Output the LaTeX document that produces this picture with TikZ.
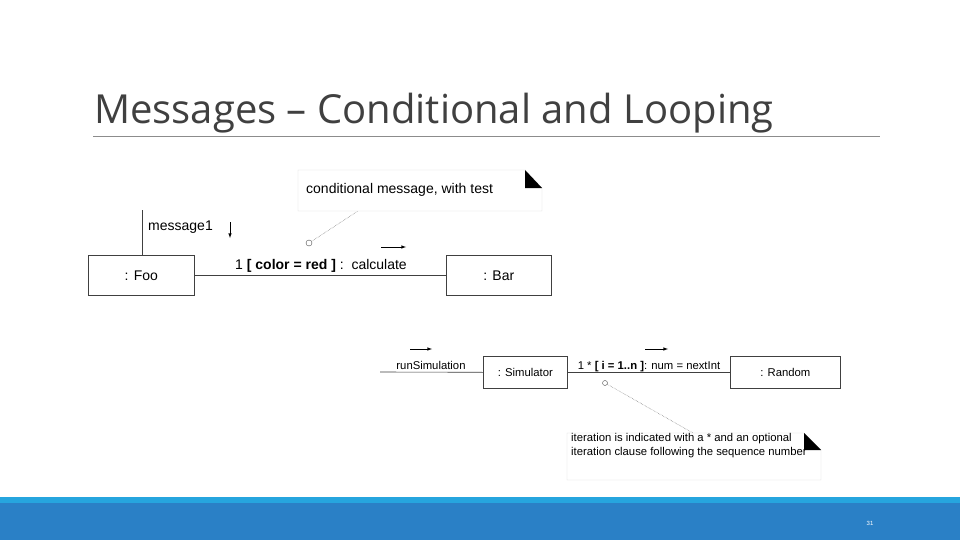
\documentclass[tikz,border=0pt]{standalone}
\usepackage{fontspec}
\setmainfont{Liberation Sans}
\newfontfamily\titlefont{Open Sans}
\definecolor{stripe}{RGB}{38,165,222}
\definecolor{band}{RGB}{42,128,198}
\begin{document}
\begin{tikzpicture}[x=1pt,y=-1pt,
  obj/.style={draw=black!75,line width=0.6pt,fill=white,inner sep=0},
  lbl/.style={font=\fontsize{11.3}{13}\selectfont,inner sep=0},
  big/.style={font=\fontsize{14}{16}\selectfont,inner sep=0},
  conn/.style={draw=black!75,line width=0.6pt},
  msg/.style={-latex,line width=0.6pt},
  dots/.style={densely dotted,black!55,line width=0.5pt}]
\useasboundingbox (0,0) rectangle (960,540);
\fill[white] (0,0) rectangle (960,540);
% title
\node[anchor=base west,inner sep=0,text=black!75,font=\titlefont\fontsize{40}{46}\selectfont] (title) at (94,124) {Messages – Conditional and Looping};
\draw[black!45,line width=0.6pt] (93,136) -- (880,136);
% footer
\fill[stripe] (0,497) rectangle (960,503);
\fill[band] (0,503) rectangle (960,540);
\node[text=white,font=\fontsize{6}{7}\selectfont] (pg) at (870,523) {31};
% top diagram
\node[obj,minimum width=106,minimum height=40,anchor=north west] (foo) at (88,255) {};
\node[big] at (foo) {: Foo};
\node[obj,minimum width=105,minimum height=40,anchor=north west] (bar) at (446,255) {};
\node[big] at (bar) {: Bar};
\draw[conn] (foo.east) -- (bar.west);
\coordinate (ftop) at (142,210);
\draw[conn] (ftop) -- (ftop|-foo.north);
\node[big,anchor=west] (m1) at (148,227) {message1};
\coordinate (d1) at (230,222); \coordinate (d2) at (230,238);
\draw[msg] (d1) -- (d2);
\node[big,anchor=base] (calc) at (321,269) {1 \textbf{[ color = red ]} :~~calculate};
\coordinate (a1) at (381,247); \coordinate (a2) at (406,247);
\draw[msg] (a1) -- (a2);
\draw[black!15,line width=0.4pt,fill=white] (298,170) -- (525,170) -- (542,188) -- (542,211) -- (298,211) -- cycle;
\fill (525,170) -- (542,188) -- (525,188) -- cycle;
\node[big,anchor=west] (n1) at (306,190) {conditional message, with test};
\node[draw=black!70,circle,inner sep=0,minimum size=6,line width=0.4pt] (c1) at (309,243) {};
\coordinate (n1a) at (358,211);
\draw[dots] (c1) -- (n1a);
% bottom diagram
\node[obj,minimum width=84,minimum height=32,anchor=north west] (sim) at (483,356) {};
\node[lbl] at (sim) {: Simulator};
\node[obj,minimum width=110,minimum height=32,anchor=north west] (rnd) at (730,356) {};
\node[lbl] at (rnd) {: Random};
\coordinate (s0) at (380,372);
\draw[conn] (s0) -- (sim.west);
\draw[conn] (sim.east) -- (rnd.west);
\node[lbl,anchor=base] (rs) at (431,369) {runSimulation};
\coordinate (b1) at (410,349); \coordinate (b2) at (432,349);
\draw[msg] (b1) -- (b2);
\node[lbl,anchor=base] (loop) at (649,369) {1 * \textbf{[ i = 1..n ]}: num = nextInt};
\coordinate (b3) at (645,349); \coordinate (b4) at (668,349);
\draw[msg] (b3) -- (b4);
\draw[black!15,line width=0.4pt,fill=white] (567,433) -- (804,433) -- (821,450) -- (821,480) -- (567,480) -- cycle;
\fill (804,433) -- (821,450) -- (804,450) -- cycle;
\node[anchor=base west,align=left,inner sep=0,font=\fontsize{11.3}{13.5}\selectfont] (n2) at (571,455) {iteration is indicated with a * and an optional\\iteration clause following the sequence number};
\node[draw=black!70,circle,inner sep=0,minimum size=5,line width=0.4pt] (c2) at (605,383) {};
\coordinate (n2a) at (693,433);
\draw[dots] (c2) -- (n2a);
\end{tikzpicture}
\end{document}
